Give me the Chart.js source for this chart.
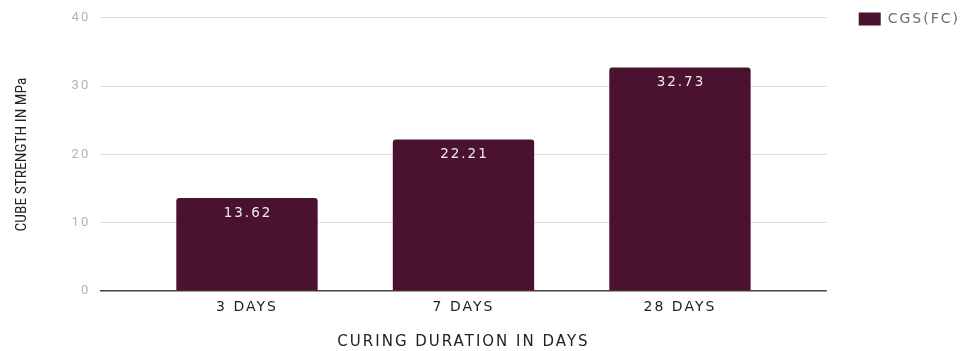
<!DOCTYPE html>
<html>
<head>
<meta charset="utf-8">
<script src="https://cdn.jsdelivr.net/npm/chart.js@4/dist/chart.umd.min.js"></script>
<style>
  html, body { margin: 0; padding: 0; background: #ffffff; }
  #wrap { width: 965px; height: 351px; position: relative; }
</style>
</head>
<body>
<div id="wrap"><canvas id="c"></canvas></div>
<script>
const categories = ['3 DAYS', '7 DAYS', '28 DAYS'];
const seriesName = 'CGS(FC)';
const values = [13.62, 22.21, 32.73];
const yTicks = [0, 10, 20, 30, 40];

const barColor = '#4b1230';
const WIDE = '"DejaVu Sans", Verdana, sans-serif';

// wide letter spacing for all text except the condensed y-axis title
const spacingPlugin = {
  id: 'spacing',
  beforeInit(chart) {
    const ctx = chart.ctx;
    const f = ctx.fillText.bind(ctx);
    const m = ctx.measureText.bind(ctx);
    const set = () => { ctx.letterSpacing = /Narrow/.test(ctx.font) ? '0px' : '2px'; };
    ctx.fillText = (t, x, y, w) => { set(); return w === undefined ? f(t, x, y) : f(t, x, y, w); };
    ctx.measureText = (t) => { set(); return m(t); };
  }
};

const dataLabelPlugin = {
  id: 'dataLabels',
  afterDatasetsDraw(chart) {
    const ctx = chart.ctx;
    const meta = chart.getDatasetMeta(0);
    ctx.save();
    ctx.font = '13.5px ' + WIDE;
    ctx.fillStyle = '#f2e9ed';
    ctx.textAlign = 'center';
    ctx.textBaseline = 'middle';
    meta.data.forEach((bar, i) => {
      ctx.fillText(values[i].toFixed(2), bar.x + 1, bar.y + 15);
    });
    ctx.restore();
  }
};

new Chart(document.getElementById('c'), {
  type: 'bar',
  data: {
    datasets: [{
      label: seriesName,
      data: values.map((v, i) => ({ x: i, y: v })),
      backgroundColor: barColor,
      borderRadius: { topLeft: 3, topRight: 3 },
      borderSkipped: 'bottom',
      categoryPercentage: 1,
      barPercentage: 0.653
    }]
  },
  options: {
    responsive: true,
    maintainAspectRatio: false,
    animation: false,
    layout: { padding: { left: 13, top: 10, right: -5, bottom: 0 } },
    plugins: {
      legend: {
        position: 'right',
        align: 'start',
        labels: {
          boxWidth: 22,
          boxHeight: 13,
          color: '#6b6b6b',
          padding: 2,
          font: { size: 14, family: WIDE }
        }
      },
      tooltip: { enabled: false }
    },
    scales: {
      x: {
        type: 'linear',
        min: -0.678,
        max: 2.678,
        offset: false,
        afterBuildTicks(scale) {
          scale.ticks = categories.map((c, i) => ({ value: i }));
        },
        grid: { display: false },
        border: { display: false },
        ticks: {
          autoSkip: false,
          maxRotation: 0,
          padding: 0,
          color: '#222',
          font: { size: 14, family: WIDE },
          callback: (v) => categories[v] ?? ''
        },
        title: {
          display: true,
          text: 'CURING DURATION IN DAYS',
          color: '#222',
          padding: { top: 17, bottom: 0 },
          font: { size: 15, family: WIDE }
        }
      },
      y: {
        min: 0,
        max: 40,
        afterBuildTicks(scale) {
          scale.ticks = yTicks.map(v => ({ value: v }));
        },
        grid: {
          color: (c) => c.tick && c.tick.value === 0 ? '#444' : '#dddddd',
          lineWidth: (c) => c.tick && c.tick.value === 0 ? 1.5 : 1,
          drawTicks: false
        },
        border: { display: false },
        ticks: {
          padding: 10,
          color: '#b3b3b3',
          font: { size: 13, family: 'Roboto, "Liberation Sans", sans-serif' }
        },
        title: {
          display: true,
          text: 'CUBE STRENGTH IN MPa',
          color: '#222',
          padding: { top: 0, bottom: 30 },
          font: { size: 15.5, family: '"Liberation Sans Narrow", "Roboto Condensed", sans-serif' }
        }
      },
      gap: {
        type: 'linear',
        position: 'right',
        display: true,
        grid: { display: false },
        border: { display: false },
        ticks: { display: false },
        afterFit(scale) { scale.width = 30; }
      }
    }
  },
  plugins: [spacingPlugin, dataLabelPlugin]
});
</script>
</body>
</html>
